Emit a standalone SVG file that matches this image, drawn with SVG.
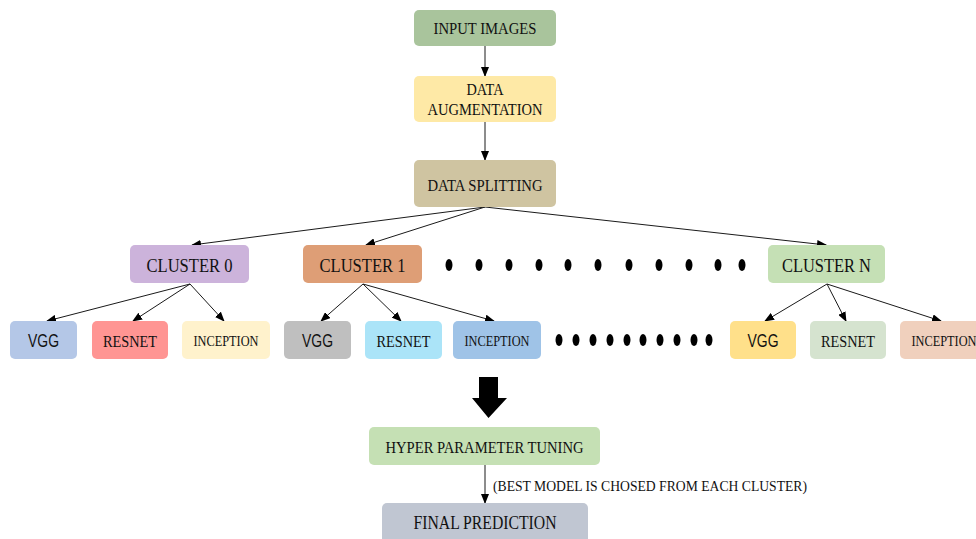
<svg xmlns="http://www.w3.org/2000/svg" width="976" height="539" viewBox="0 0 976 539">
<defs>
<marker id="ah" markerWidth="10" markerHeight="8" refX="9" refY="4" orient="auto" markerUnits="userSpaceOnUse">
<path d="M0,0 L10,4 L0,8 Z" fill="#000"/>
</marker>
<style>
.t{font-family:"Liberation Serif","Times New Roman",serif;fill:#111;text-anchor:middle}
.s{font-family:"Liberation Sans",Arial,sans-serif;fill:#111;text-anchor:middle}
.c{stroke:#1a1a1a;stroke-width:1;fill:none;marker-end:url(#ah)}
rect{rx:5;ry:5}
</style>
</defs>
<rect x="0" y="0" width="976" height="539" fill="#fff" rx="0" ry="0"/>

<g id="connectors">
<line class="c" x1="485" y1="46" x2="485" y2="76"/>
<line class="c" x1="485" y1="122" x2="485" y2="160"/>
<line class="c" x1="485" y1="207" x2="192" y2="245"/>
<line class="c" x1="485" y1="207" x2="366" y2="245"/>
<line class="c" x1="485" y1="207" x2="826" y2="245"/>
<line class="c" x1="190" y1="284" x2="47" y2="321"/>
<line class="c" x1="190" y1="284" x2="133" y2="321"/>
<line class="c" x1="190" y1="284" x2="224" y2="321"/>
<line class="c" x1="363" y1="284" x2="321" y2="321"/>
<line class="c" x1="363" y1="284" x2="401" y2="321"/>
<line class="c" x1="363" y1="284" x2="494" y2="321"/>
<line class="c" x1="827" y1="284" x2="765" y2="321"/>
<line class="c" x1="827" y1="284" x2="846" y2="321"/>
<line class="c" x1="827" y1="284" x2="941" y2="321"/>
<line class="c" x1="485" y1="465" x2="485" y2="503"/>
<polygon points="479,377 498,377 498,398 507,398 488.5,418 472,398 479,398" fill="#000"/>
</g>

<g id="dots1" fill="#000">
<ellipse cx="449" cy="265" rx="3.5" ry="6"/>
<ellipse cx="479" cy="265" rx="3.5" ry="6"/>
<ellipse cx="509" cy="265" rx="3.5" ry="6"/>
<ellipse cx="539" cy="265" rx="3.5" ry="6"/>
<ellipse cx="568" cy="265" rx="3.5" ry="6"/>
<ellipse cx="598" cy="265" rx="3.5" ry="6"/>
<ellipse cx="629" cy="265" rx="3.5" ry="6"/>
<ellipse cx="659" cy="265" rx="3.5" ry="6"/>
<ellipse cx="689" cy="265" rx="3.5" ry="6"/>
<ellipse cx="718" cy="265" rx="3.5" ry="6"/>
<ellipse cx="742" cy="265" rx="3.5" ry="6"/>
</g>
<g id="dots2" fill="#000">
<ellipse cx="559" cy="340" rx="3.5" ry="6"/>
<ellipse cx="576" cy="340" rx="3.5" ry="6"/>
<ellipse cx="593" cy="340" rx="3.5" ry="6"/>
<ellipse cx="610" cy="340" rx="3.5" ry="6"/>
<ellipse cx="627" cy="340" rx="3.5" ry="6"/>
<ellipse cx="643" cy="340" rx="3.5" ry="6"/>
<ellipse cx="660" cy="340" rx="3.5" ry="6"/>
<ellipse cx="677" cy="340" rx="3.5" ry="6"/>
<ellipse cx="694" cy="340" rx="3.5" ry="6"/>
<ellipse cx="709" cy="340" rx="3.5" ry="6"/>
</g>

<g id="input"><rect x="414" y="10" width="142" height="36" fill="#a9c49c"/><text class="t" x="485" y="34" font-size="16.5" textLength="103" lengthAdjust="spacingAndGlyphs">INPUT IMAGES</text></g>
<g id="augment"><rect x="414" y="76" width="142" height="46" fill="#fee9a6"/><text class="t" x="485" y="95" font-size="16.5" textLength="37" lengthAdjust="spacingAndGlyphs">DATA</text><text class="t" x="485" y="115" font-size="16.5" textLength="115" lengthAdjust="spacingAndGlyphs">AUGMENTATION</text></g>
<g id="split"><rect x="414" y="160" width="142" height="47" fill="#cfc4a1"/><text class="t" x="485" y="191" font-size="16.5" textLength="115" lengthAdjust="spacingAndGlyphs">DATA SPLITTING</text></g>

<g id="cluster0"><rect x="130" y="245" width="119" height="38" fill="#ccb3db"/><text class="t" x="189.5" y="272" font-size="19" textLength="86" lengthAdjust="spacingAndGlyphs">CLUSTER 0</text></g>
<g id="cluster1"><rect x="303" y="245" width="119" height="38" fill="#de9e76"/><text class="t" x="362.5" y="272" font-size="19" textLength="86" lengthAdjust="spacingAndGlyphs">CLUSTER 1</text></g>
<g id="clusterN"><rect x="768" y="245" width="117" height="38" fill="#c5e0b5"/><text class="t" x="826.5" y="272" font-size="19" textLength="89" lengthAdjust="spacingAndGlyphs">CLUSTER N</text></g>

<g id="vgg0"><rect x="10" y="321" width="67" height="38" fill="#b4c7e7"/><text class="s" x="43.5" y="347" font-size="18" textLength="31" lengthAdjust="spacingAndGlyphs">VGG</text></g>
<g id="resnet0"><rect x="92" y="321" width="76" height="38" fill="#ff9593"/><text class="t" x="130" y="347" font-size="16.5" textLength="54" lengthAdjust="spacingAndGlyphs">RESNET</text></g>
<g id="inception0"><rect x="182" y="321" width="88" height="38" fill="#fff2cc"/><text class="t" x="226" y="346" font-size="15" textLength="65" lengthAdjust="spacingAndGlyphs">INCEPTION</text></g>
<g id="vgg1"><rect x="284" y="321" width="67" height="38" fill="#bfbfbf"/><text class="s" x="317.5" y="347" font-size="18" textLength="31" lengthAdjust="spacingAndGlyphs">VGG</text></g>
<g id="resnet1"><rect x="365" y="321" width="77" height="38" fill="#abe4f8"/><text class="t" x="403.5" y="347" font-size="16.5" textLength="54" lengthAdjust="spacingAndGlyphs">RESNET</text></g>
<g id="inception1"><rect x="453" y="321" width="88" height="38" fill="#9fc3e7"/><text class="t" x="497" y="346" font-size="15" textLength="65" lengthAdjust="spacingAndGlyphs">INCEPTION</text></g>
<g id="vggN"><rect x="730" y="321" width="66" height="38" fill="#ffe08a"/><text class="s" x="763" y="347" font-size="18" textLength="31" lengthAdjust="spacingAndGlyphs">VGG</text></g>
<g id="resnetN"><rect x="810" y="321" width="76" height="38" fill="#d5e3cf"/><text class="t" x="848" y="347" font-size="16.5" textLength="54" lengthAdjust="spacingAndGlyphs">RESNET</text></g>
<g id="inceptionN"><rect x="900" y="321" width="88" height="38" fill="#f0d0bd"/><text class="t" x="944" y="346" font-size="15" textLength="65" lengthAdjust="spacingAndGlyphs">INCEPTION</text></g>

<g id="hyper"><rect x="369" y="427" width="231" height="38" fill="#c5e0b4"/><text class="t" x="484.5" y="453" font-size="16.5" textLength="198" lengthAdjust="spacingAndGlyphs">HYPER PARAMETER TUNING</text></g>
<text class="t" x="493" y="491" font-size="14" text-anchor="start" style="text-anchor:start" textLength="314" lengthAdjust="spacingAndGlyphs">(BEST MODEL IS CHOSED FROM EACH CLUSTER)</text>
<g id="final"><rect x="382" y="503" width="206" height="46" fill="#c0c6d2"/><text class="t" x="485" y="529" font-size="18.5" textLength="143" lengthAdjust="spacingAndGlyphs">FINAL PREDICTION</text></g>
</svg>
